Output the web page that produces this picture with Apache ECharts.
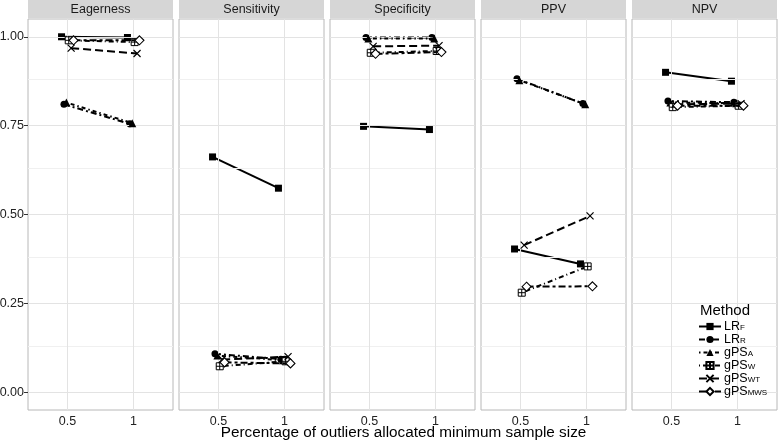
<!DOCTYPE html>
<html><head><meta charset="utf-8">
<script src="https://cdn.jsdelivr.net/npm/echarts@6/dist/echarts.min.js"></script>
<style>html,body{margin:0;padding:0;background:#fff}#c{width:778px;height:442px}</style>
</head><body><div id="c"></div>
<script>
// ---------- data ----------
const panels = ['Eagerness', 'Sensitivity', 'Specificity', 'PPV', 'NPV'];
const xLevels = [0.5, 1];
const yTicks = [0, 0.25, 0.5, 0.75, 1];
const yMinor = [0.125, 0.375, 0.625, 0.875];
const methods = ['LR_F', 'LR_R', 'gPS_A', 'gPS_W', 'gPS_WT', 'gPS_MWS'];
// per panel: [value at 0.5, value at 1]
const LR_F    = [[1.000, 0.998], [0.662, 0.574], [0.748, 0.739], [0.403, 0.361], [0.900, 0.875]];
const LR_R    = [[0.810, 0.755], [0.108, 0.093], [0.998, 0.998], [0.882, 0.812], [0.819, 0.816]];
const gPS_A   = [[0.815, 0.757], [0.103, 0.090], [0.995, 0.995], [0.878, 0.810], [0.815, 0.813]];
const gPS_W   = [[0.990, 0.985], [0.073, 0.087], [0.955, 0.960], [0.280, 0.354], [0.802, 0.806]];
const gPS_WT  = [[0.968, 0.953], [0.092, 0.100], [0.973, 0.975], [0.414, 0.496], [0.810, 0.812]];
const gPS_MWS = [[0.990, 0.990], [0.084, 0.081], [0.952, 0.957], [0.297, 0.298], [0.806, 0.806]];
const values = { LR_F, LR_R, gPS_A, gPS_W, gPS_WT, gPS_MWS };
const xTitle = 'Percentage of outliers allocated minimum sample size';
const legendTitle = 'Method';

// ---------- layout / style ----------
const FONT = '"Liberation Sans", Arial, Helvetica, sans-serif';
const P_LEFT = 28, P_STEP = 151, P_W = 145, P_TOP = 19, P_H = 391;
const X_MIN = 0.2, X_MAX = 1.3;
const Y_MIN = -0.05, Y_MAX = 1.05;
const unitPerPx = (X_MAX - X_MIN) / P_W;
const dodgePx = [-6, -3.6, -1.2, 1.2, 3.6, 6];
const styleOf = {
  LR_F:    { symbol: 'rect', size: 7, fill: '#000', border: 0, dash: 'solid' },
  LR_R:    { symbol: 'circle', size: 7, fill: '#000', border: 0, dash: [6, 3, 2, 3] },
  gPS_A:   { symbol: 'triangle', size: 8, fill: '#000', border: 0, dash: [1.5, 3, 4, 3] },
  gPS_W:   { symbol: 'path://M0,0H10V10H0ZM5,0V10M0,5H10', size: 7, fill: '#fff', border: 1, dash: [1, 3, 5, 3] },
  gPS_WT:  { symbol: 'path://M0,0L10,10M10,0L0,10', size: 7, fill: 'rgba(0,0,0,0)', border: 1.2, dash: [8, 4] },
  gPS_MWS: { symbol: 'diamond', size: 9, fill: '#fff', border: 1.1, dash: [7, 3, 3, 3] }
};

const grids = [], xAxes = [], yAxes = [], series = [], graphics = [];
panels.forEach((p, i) => {
  const left = P_LEFT + P_STEP * i;
  grids.push({ left, top: P_TOP, width: P_W, height: P_H, show: true, outerBoundsMode: 'none',
    borderColor: '#B8B8B8', borderWidth: 1, backgroundColor: '#fff', containLabel: false });
  xAxes.push({ gridIndex: i, type: 'value', min: X_MIN, max: X_MAX,
    axisLine: { show: false }, splitLine: { show: false },
    axisTick: { show: true, customValues: xLevels, length: 4, lineStyle: { color: '#333', width: 1 } },
    axisLabel: { show: true, customValues: xLevels, margin: 5, fontSize: 12.5, color: '#222', fontFamily: FONT,
      formatter: v => String(v) } });
  yAxes.push({ gridIndex: i, type: 'value', min: Y_MIN, max: Y_MAX,
    axisLine: { show: false }, splitLine: { show: false },
    axisTick: { show: i === 0, customValues: yTicks, length: 4, lineStyle: { color: '#333', width: 1 } },
    axisLabel: { show: i === 0, customValues: yTicks, margin: 4, fontSize: 12.5, color: '#222', fontFamily: FONT,
      formatter: v => v.toFixed(2) } });
  // grid lines via helper series
  const ml = [];
  yMinor.forEach(v => ml.push({ yAxis: v, lineStyle: { color: '#F0F0F0', width: 1, type: 'solid' } }));
  yTicks.forEach(v => ml.push({ yAxis: v, lineStyle: { color: '#E3E3E3', width: 1, type: 'solid' } }));
  xLevels.forEach(v => ml.push({ xAxis: v, lineStyle: { color: '#E3E3E3', width: 1, type: 'solid' } }));
  series.push({ type: 'line', xAxisIndex: i, yAxisIndex: i, data: [], z: 0, silent: true,
    markLine: { silent: true, symbol: 'none', animation: false, label: { show: false }, data: ml } });
  // strip
  graphics.push({ type: 'rect', left, top: 0, shape: { width: P_W, height: P_TOP - 1 },
    style: { fill: '#D6D6D6' }, silent: true });
  graphics.push({ type: 'text', x: left + P_W / 2, y: (P_TOP - 1) / 2 + 0.5,
    style: { text: p, fill: '#1A1A1A', font: '12.5px ' + FONT, align: 'center', verticalAlign: 'middle' } });

  methods.forEach((m, k) => {
    const st = styleOf[m];
    const off = dodgePx[k] * unitPerPx;
    series.push({
      name: m, type: 'line', xAxisIndex: i, yAxisIndex: i, z: 3 + k,
      data: xLevels.map((x, j) => [x + off, values[m][i][j]]),
      symbol: st.symbol, symbolSize: st.size, showSymbol: true, animation: false,
      itemStyle: { color: st.fill, borderColor: '#000', borderWidth: st.border },
      lineStyle: { color: '#000', width: 2, type: st.dash },
      emphasis: { disabled: true }
    });
  });
});

graphics.push({ type: 'text', x: P_LEFT + (P_STEP * 4 + P_W) / 2 + 1, y: 433,
  style: { text: xTitle, fill: '#000', font: '15.3px ' + FONT, align: 'center', verticalAlign: 'middle' } });
graphics.push({ type: 'rect', left: 696, top: 302, shape: { width: 79, height: 96 },
  style: { fill: '#fff' }, z: 5, silent: true });
graphics.push({ type: 'text', x: 700, y: 311, z: 6,
  style: { text: legendTitle, fill: '#000', font: '15px ' + FONT, align: 'left', verticalAlign: 'middle' } });

const chart = echarts.init(document.getElementById('c'), null, { renderer: 'canvas' });
chart.setOption({
  animation: false,
  backgroundColor: '#fff',
  grid: grids, xAxis: xAxes, yAxis: yAxes, series,
  graphic: { elements: graphics },
  legend: {
    data: methods, orient: 'vertical', left: 698, top: 320, padding: 0, itemGap: 0,
    itemWidth: 22, itemHeight: 9, z: 10, selectedMode: false,
    textStyle: { fontFamily: FONT, color: '#000', padding: [0, 0, 0, -2],
      rich: {
        m: { fontSize: 12.5, lineHeight: 11, fontFamily: FONT, color: '#000' },
        s: { fontSize: 8, lineHeight: 8, fontFamily: FONT, color: '#000', verticalAlign: 'bottom', padding: [3, 0, 0, 0] }
      } },
    formatter: name => { const [a, b] = name.split('_'); return '{m|' + a + '}{s|' + b + '}'; }
  }
});
</script></body></html>
